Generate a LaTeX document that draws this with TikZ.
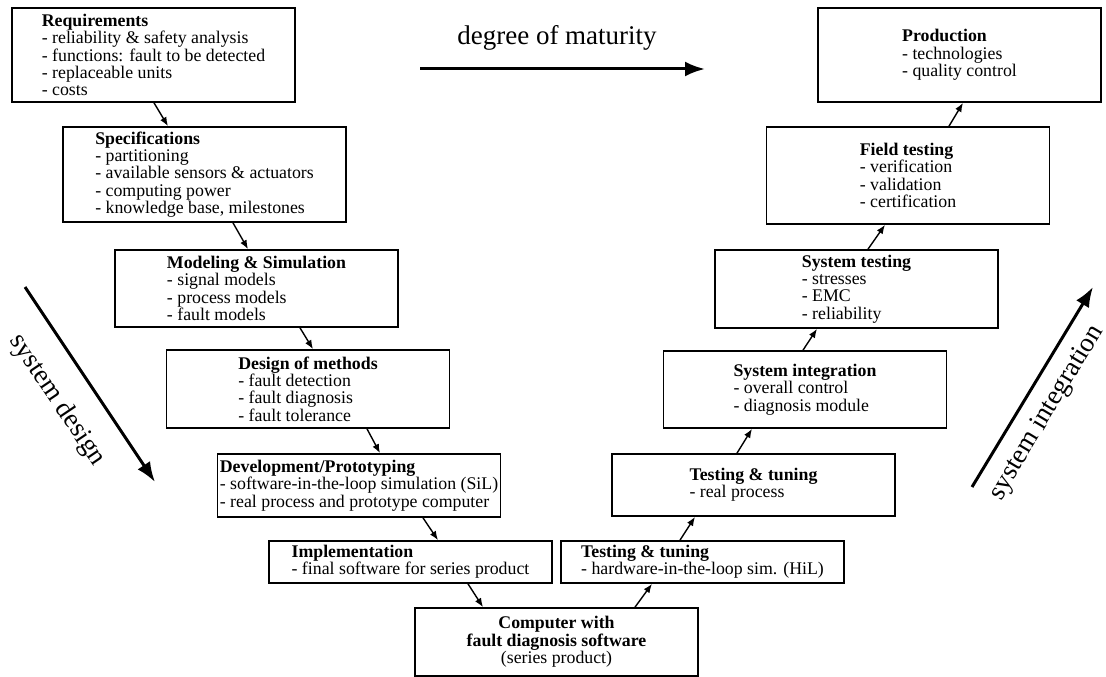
\documentclass[tikz,border=0pt]{standalone}
\usepackage{fontspec}
\setmainfont{Liberation Serif}
\usetikzlibrary{arrows.meta}

\begin{document}
\begin{tikzpicture}[x=1pt, y=-1pt, >={Latex[length=9pt, width=7pt]},
  box/.style={draw, line width=1.7pt, minimum width=283pt, inner sep=2pt, align=left, font=\fontsize{17.8}{17.3}\selectfont},
  link/.style={->, line width=1.4pt},
  big/.style={-{Latex[length=20pt, width=15pt]}, line width=3pt},
  bigtext/.style={font=\fontsize{27}{30}\selectfont}]
\useasboundingbox (0,0) rectangle (1106,677);
\node[box, minimum height=94pt] (req) at (153.5,55) {\textbf{Requirements}\\ - reliability \& safety analysis\\ - functions: fault to be detected\\ - replaceable units\\ - costs};
\node[box, minimum height=95pt] (spec) at (204.5,174.5) {\textbf{Specifications}\\ - partitioning\\ - available sensors \& actuators\\ - computing power\\ - knowledge base, milestones};
\node[box, minimum height=77pt] (model) at (256.5,288.5) {\textbf{Modeling \& Simulation}\\ - signal models\\ - process models\\ - fault models};
\node[box, minimum height=78pt] (meth) at (308,389) {\textbf{Design of methods}\\ - fault detection\\ - fault diagnosis\\ - fault tolerance};
\node[box, minimum height=63pt] (dev) at (359,485.5) {\textbf{Development/Prototyping}\\ - software-in-the-loop simulation (SiL)\\ - real process and prototype computer};
\node[box, minimum height=42pt] (impl) at (410.5,562) {\textbf{Implementation}\\ - final software for series product};
\node[box, minimum height=68pt, align=center] (comp) at (556.5,642) {\textbf{Computer with}\\ \textbf{fault diagnosis software}\\ (series product)};
\node[box, minimum height=42pt] (hil) at (702.5,562) {\textbf{Testing \& tuning}\\ - hardware-in-the-loop sim. (HiL)};
\node[box, minimum height=62pt] (real) at (753.5,485) {\textbf{Testing \& tuning}\\ - real process};
\node[box, minimum height=77pt] (sysint) at (805,389.5) {\textbf{System integration}\\ - overall control\\ - diagnosis module};
\node[box, minimum height=78pt] (systest) at (856.5,289) {\textbf{System testing}\\ - stresses\\ - EMC\\ - reliability};
\node[box, minimum height=97pt] (field) at (908,175.5) {\textbf{Field testing}\\ - verification\\ - validation\\ - certification};
\node[box, minimum height=94pt] (prod) at (959.5,55) {\textbf{Production}\\ - technologies\\ - quality control};
\draw[link] ([xshift=0.5pt]req.south) -- ([xshift=-36.5pt]spec.north);
\draw[link] ([xshift=28.5pt]spec.south) -- ([xshift=-8.5pt]model.north);
\draw[link] ([xshift=43.5pt]model.south) -- ([xshift=5pt]meth.north);
\draw[link] ([xshift=59pt]meth.south) -- ([xshift=21pt]dev.north);
\draw[link] ([xshift=64pt]dev.south) -- ([xshift=27.5pt]impl.north);
\draw[link] ([xshift=57.5pt]impl.south) -- ([xshift=-73.5pt]comp.north);
\draw[link] ([xshift=78.5pt]comp.north) -- ([xshift=-50.5pt]hil.south);
\draw[link] ([xshift=-22.5pt]hil.north) -- ([xshift=-58.5pt]real.south);
\draw[link] ([xshift=-16.5pt]real.north) -- ([xshift=-53pt]sysint.south);
\draw[link] ([xshift=-2pt]sysint.north) -- ([xshift=-39.5pt]systest.south);
\draw[link] ([xshift=11.5pt]systest.north) -- ([xshift=-23pt]field.south);
\draw[link] ([xshift=41pt]field.north) -- ([xshift=3.5pt]prod.south);
\coordinate (mat1) at (420,69); \coordinate (mat2) at (705,69);
\coordinate (des1) at (25,287); \coordinate (des2) at (155,482);
\coordinate (int1) at (972,487); \coordinate (int2) at (1093,287);
\draw[big] (mat1) -- (mat2); \draw[big] (des1) -- (des2); \draw[big] (int1) -- (int2);
\node[bigtext] (matlbl) at (557,38) {degree of maturity};
\node[bigtext, rotate=-56] (deslbl) at (57,400) {system design};
\node[bigtext, rotate=59] (intlbl) at (1047,413) {system integration};
\end{tikzpicture}
\end{document}
